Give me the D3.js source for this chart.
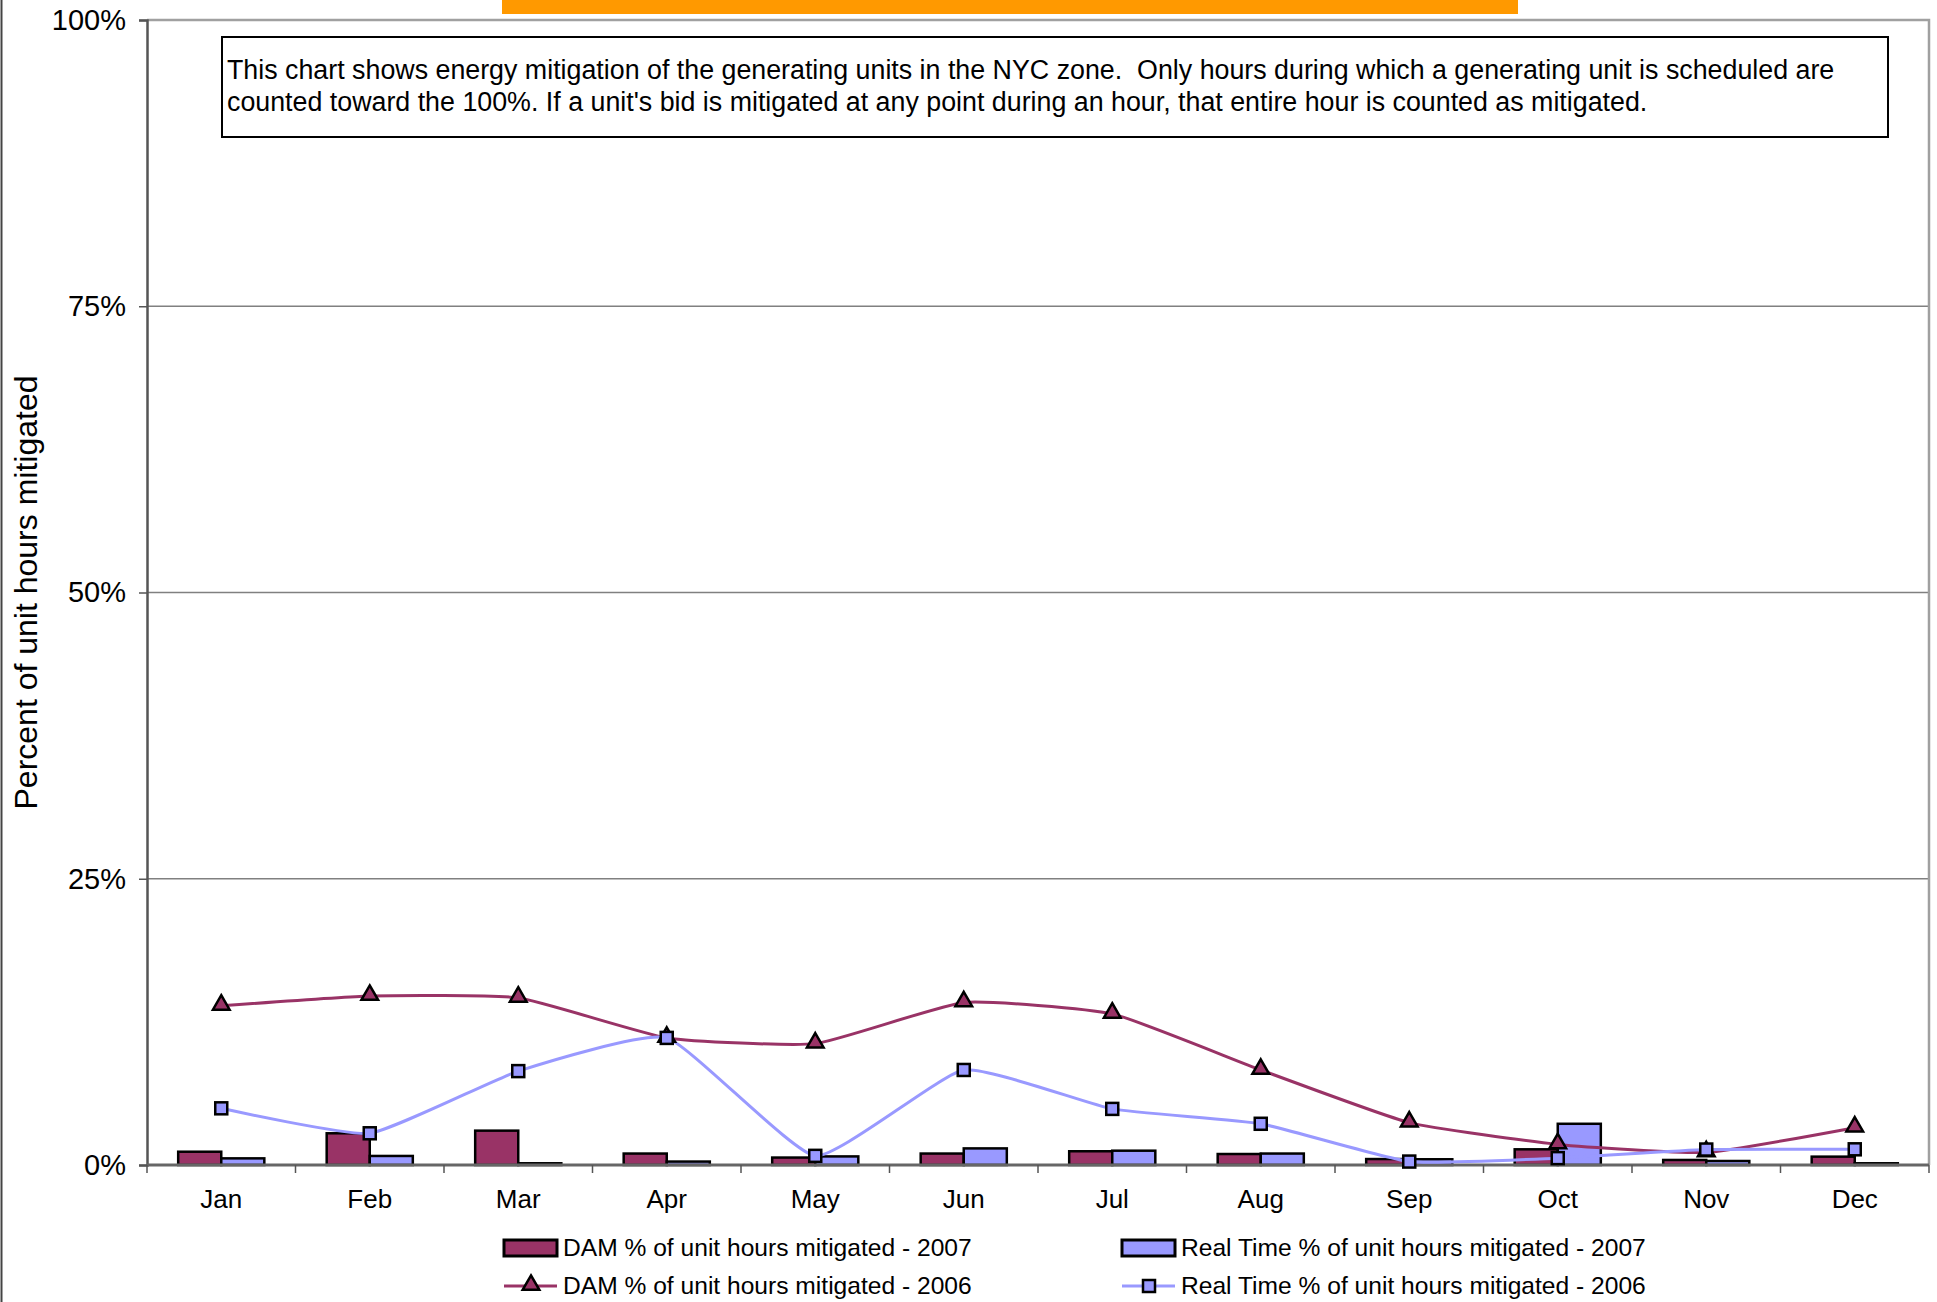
<!DOCTYPE html>
<html>
<head>
<meta charset="utf-8">
<script src="https://cdn.jsdelivr.net/npm/d3@7"></script>
<style>
  body { margin: 0; background: #fff; }
  svg { display: block; font-family: "Liberation Sans", Arial, sans-serif; }
</style>
</head>
<body>
<div id="chart"></div>
<script>
// values, in percent
var months = ["Jan", "Feb", "Mar", "Apr", "May", "Jun", "Jul", "Aug", "Sep", "Oct", "Nov", "Dec"];
var dam2007 = [1.16, 2.77, 3.0, 1.0, 0.65, 1.0, 1.2, 0.96, 0.52, 1.37, 0.44, 0.73];
var rt2007 = [0.58, 0.79, 0.15, 0.3, 0.75, 1.45, 1.25, 1.0, 0.5, 3.6, 0.35, 0.15];
var dam2006 = [13.9, 14.76, 14.6, 11.1, 10.6, 14.2, 13.2, 8.3, 3.7, 1.8, 1.1, 3.26];
var rt2006 = [4.95, 2.77, 8.2, 11.1, 0.8, 8.3, 4.9, 3.6, 0.3, 0.6, 1.35, 1.37];
var yTicks = [0, 25, 50, 75, 100];
var legendLabels = [
  "DAM % of unit hours mitigated - 2007",
  "Real Time % of unit hours mitigated - 2007",
  "DAM % of unit hours mitigated - 2006",
  "Real Time % of unit hours mitigated - 2006"
];
var noteLines = [
  "This chart shows energy mitigation of the generating units in the NYC zone.  Only hours during which a generating unit is scheduled are",
  "counted toward the 100%. If a unit's bid is mitigated at any point during an hour, that entire hour is counted as mitigated."
];

var W = 1937, H = 1302;
var damColor = "#993366", rtColor = "#9999ff";

var svg = d3.select("#chart").append("svg")
  .attr("width", W)
  .attr("height", H);

// page frame edge on the left + the cut-off orange title bar
svg.append("line")
  .attr("x1", 1.5).attr("x2", 1.5).attr("y1", 0).attr("y2", H)
  .attr("stroke", "#444").attr("stroke-width", 2);
svg.append("rect")
  .attr("x", 502).attr("y", 0).attr("width", 1016).attr("height", 14)
  .attr("fill", "#ff9900");

var plot = { left: 147, right: 1929, top: 20, bottom: 1165 };

var x = d3.scaleBand()
  .domain(months)
  .range([plot.left, plot.right]);

var y = d3.scaleLinear()
  .domain([0, 100])
  .range([plot.bottom, plot.top]);

var barW = x.bandwidth() * 0.29;
var cx = function(m) { return x(m) + x.bandwidth() / 2; };

// gridlines
svg.append("g")
  .selectAll("line")
  .data(yTicks.filter(function(d) { return d > 0 && d < 100; }))
  .join("line")
    .attr("x1", plot.left).attr("x2", plot.right)
    .attr("y1", function(d) { return y(d); })
    .attr("y2", function(d) { return y(d); })
    .attr("stroke", "#808080").attr("stroke-width", 1.5);

// top + right border of plot area
svg.append("path")
  .attr("d", "M" + plot.left + "," + plot.top + "H" + plot.right + "V" + plot.bottom)
  .attr("fill", "none").attr("stroke", "#a0a0a0").attr("stroke-width", 2.5);

// y axis
var yAxis = svg.append("g")
  .attr("transform", "translate(" + plot.left + ",0)")
  .call(d3.axisLeft(y)
    .tickValues(yTicks)
    .tickSize(8)
    .tickPadding(13)
    .tickFormat(function(d) { return d + "%"; }));
yAxis.select(".domain").attr("stroke", "#555").attr("stroke-width", 2.5);
yAxis.selectAll(".tick line").attr("stroke", "#555").attr("stroke-width", 1.5);
yAxis.selectAll("text")
  .attr("font-size", 29)
  .attr("font-family", "Liberation Sans, Arial, sans-serif")
  .attr("fill", "#000");

// y title
svg.append("text")
  .attr("transform", "translate(37," + (plot.top + plot.bottom) / 2 + ") rotate(-90)")
  .attr("text-anchor", "middle")
  .attr("font-size", 32)
  .text("Percent of unit hours mitigated");

// bars 2007
var bars = svg.append("g").attr("stroke", "#000").attr("stroke-width", 2.5);
bars.selectAll(".dam")
  .data(months)
  .join("rect")
    .attr("class", "dam")
    .attr("x", function(m) { return cx(m) - barW; })
    .attr("y", function(m, i) { return y(dam2007[i]); })
    .attr("width", barW)
    .attr("height", function(m, i) { return y(0) - y(dam2007[i]); })
    .attr("fill", damColor);
bars.selectAll(".rt")
  .data(months)
  .join("rect")
    .attr("class", "rt")
    .attr("x", function(m) { return cx(m); })
    .attr("y", function(m, i) { return y(rt2007[i]); })
    .attr("width", barW)
    .attr("height", function(m, i) { return y(0) - y(rt2007[i]); })
    .attr("fill", rtColor);

// x axis line + band ticks + month labels
svg.append("line")
  .attr("x1", plot.left).attr("x2", plot.right)
  .attr("y1", y(0)).attr("y2", y(0))
  .attr("stroke", "#666").attr("stroke-width", 3);
svg.append("g")
  .selectAll("line")
  .data(d3.range(months.length + 1))
  .join("line")
    .attr("x1", function(i) { return plot.left + i * x.step(); })
    .attr("x2", function(i) { return plot.left + i * x.step(); })
    .attr("y1", y(0)).attr("y2", y(0) + 8)
    .attr("stroke", "#555").attr("stroke-width", 1.5);
svg.append("g")
  .selectAll("text")
  .data(months)
  .join("text")
    .attr("x", cx)
    .attr("y", 1208)
    .attr("text-anchor", "middle")
    .attr("font-size", 26)
    .text(function(d) { return d; });

// 2006 lines
var line = d3.line()
  .x(function(d) { return cx(d.m); })
  .y(function(d) { return y(d.v); })
  .curve(d3.curveCardinal.tension(0.55));

function pts(vals) {
  return months.map(function(m, i) { return { m: m, v: vals[i] }; });
}

var triangle = d3.symbol().type(d3.symbolTriangle).size(120);

svg.append("path")
  .datum(pts(dam2006))
  .attr("d", line)
  .attr("fill", "none").attr("stroke", damColor).attr("stroke-width", 3);
svg.append("path")
  .datum(pts(rt2006))
  .attr("d", line)
  .attr("fill", "none").attr("stroke", rtColor).attr("stroke-width", 3);

svg.append("g")
  .selectAll("path")
  .data(pts(dam2006))
  .join("path")
    .attr("transform", function(d) { return "translate(" + cx(d.m) + "," + (y(d.v) - 1) + ")"; })
    .attr("d", triangle)
    .attr("fill", damColor).attr("stroke", "#000").attr("stroke-width", 2.5);
svg.append("g")
  .selectAll("rect")
  .data(pts(rt2006))
  .join("rect")
    .attr("x", function(d) { return cx(d.m) - 6; })
    .attr("y", function(d) { return y(d.v) - 6; })
    .attr("width", 12).attr("height", 12)
    .attr("fill", rtColor).attr("stroke", "#000").attr("stroke-width", 2.5);

// note box
var note = svg.append("g");
note.append("rect")
  .attr("x", 222).attr("y", 37).attr("width", 1666).attr("height", 100)
  .attr("fill", "#fff").attr("stroke", "#000").attr("stroke-width", 2);
note.selectAll("text")
  .data(noteLines)
  .join("text")
    .attr("x", 227)
    .attr("y", function(d, i) { return 79 + i * 32; })
    .attr("font-size", 26.8)
    .attr("xml:space", "preserve")
    .style("white-space", "pre")
    .text(function(d) { return d; });

// legend
var legendPos = [
  { sx: 504, tx: 563, y: 1248 },
  { sx: 1122, tx: 1181, y: 1248 },
  { sx: 504, tx: 563, y: 1286 },
  { sx: 1122, tx: 1181, y: 1286 }
];
var legend = svg.append("g");
legendLabels.forEach(function(label, i) {
  var p = legendPos[i];
  var col = (i % 2 === 0) ? damColor : rtColor;
  if (i < 2) {
    legend.append("rect")
      .attr("x", p.sx).attr("y", p.y - 8).attr("width", 53).attr("height", 16)
      .attr("fill", col).attr("stroke", "#000").attr("stroke-width", 3);
  } else {
    legend.append("line")
      .attr("x1", p.sx).attr("x2", p.sx + 53)
      .attr("y1", p.y).attr("y2", p.y)
      .attr("stroke", col).attr("stroke-width", 3);
    if (i === 2) {
      legend.append("path")
        .attr("transform", "translate(" + (p.sx + 27) + "," + (p.y - 1) + ")")
        .attr("d", triangle)
        .attr("fill", col).attr("stroke", "#000").attr("stroke-width", 2.5);
    } else {
      legend.append("rect")
        .attr("x", p.sx + 21).attr("y", p.y - 6).attr("width", 12).attr("height", 12)
        .attr("fill", col).attr("stroke", "#000").attr("stroke-width", 2.5);
    }
  }
  legend.append("text")
    .attr("x", p.tx).attr("y", p.y + 8)
    .attr("font-size", 24.6)
    .text(label);
});
</script>
</body>
</html>
